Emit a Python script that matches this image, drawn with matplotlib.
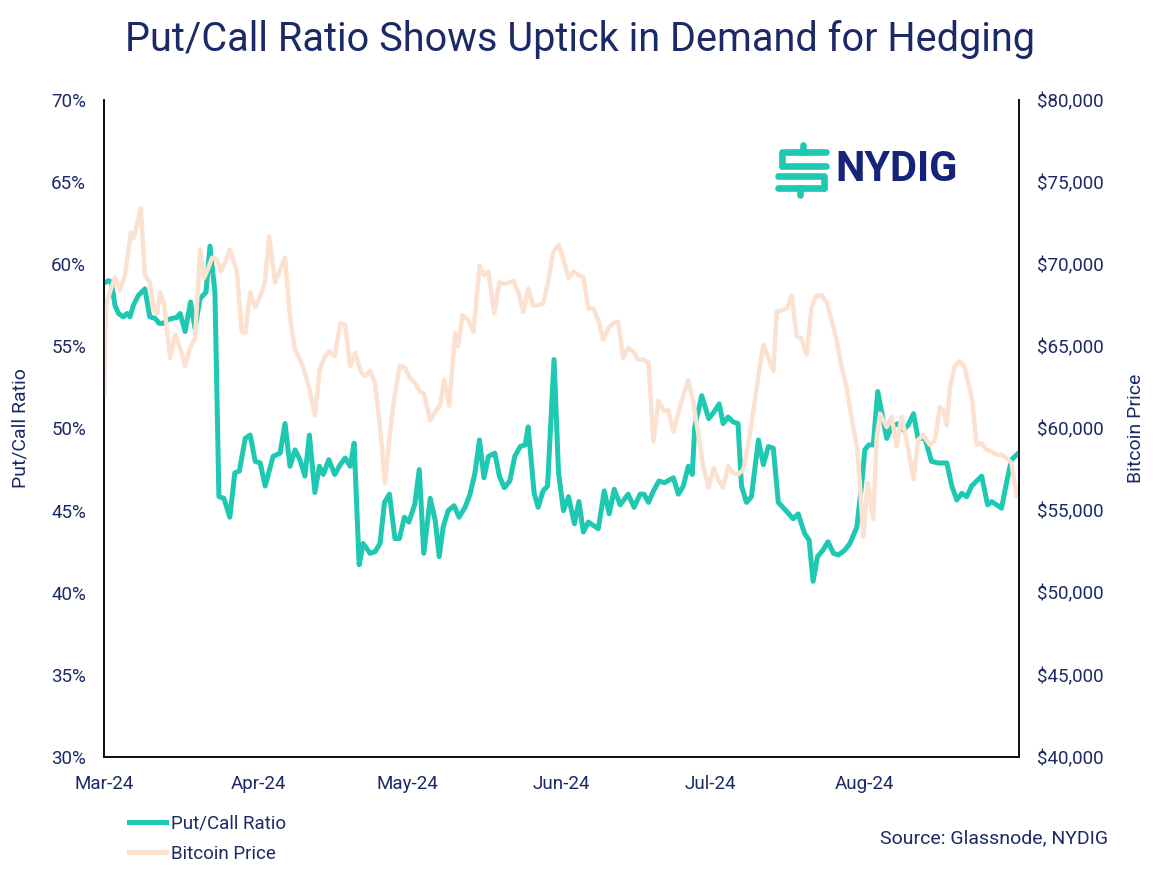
import matplotlib
matplotlib.use("Agg")
import matplotlib.pyplot as plt
import matplotlib.dates as mdates
from matplotlib.lines import Line2D
from matplotlib.ticker import FuncFormatter, MultipleLocator
import pandas as pd

START = pd.Timestamp("2024-03-01")
month_ticks = ["2024-03-01", "2024-04-01", "2024-05-01", "2024-06-01", "2024-07-01", "2024-08-01"]

# days after 1 Mar 2024 and put/call ratio (%)
pc_days = [0.0, 0.9, 1.5, 2.2, 2.9, 3.9, 4.6, 5.2, 5.9, 6.9, 8.2, 9.2, 10.3, 11.1, 11.9,
           12.6, 13.6, 14.6, 15.3, 16.3, 17.4, 18.3, 19.3, 20.5, 21.3, 22.0, 22.3, 23.1,
           24.1, 25.3, 26.3, 27.2, 28.4, 29.4, 30.4, 31.4, 32.4, 34.0, 35.4, 36.4, 37.4,
           38.4, 39.4, 40.4, 41.3, 42.4, 43.3, 44.1, 45.2, 46.4, 47.5, 48.5, 49.5, 50.3,
           51.3, 52.1, 53.5, 54.5, 55.5, 56.4, 57.4, 58.5, 59.4, 60.4, 61.3, 62.5, 63.4,
           64.3, 65.6, 66.6, 67.4, 68.2, 69.2, 70.4, 71.4, 72.6, 73.6, 74.6, 75.5, 76.4,
           77.3, 78.6, 79.5, 80.5, 81.6, 82.6, 83.7, 84.7, 85.3, 86.5, 87.3, 88.3, 89.2,
           90.5, 91.4, 92.4, 93.4, 94.6, 95.5, 96.4, 97.4, 98.4, 99.4, 100.6, 101.6, 102.6,
           103.8, 105.4, 106.6, 107.8, 108.6, 109.5, 110.5, 111.6, 112.7, 114.5, 115.5,
           116.5, 117.5, 118.3, 118.8, 120.2, 121.6, 122.9, 123.7, 124.5, 125.5, 126.5,
           127.5, 128.2, 129.2, 130.2, 131.6, 132.6, 133.6, 134.6, 135.6, 137.3, 138.6,
           139.6, 140.9, 141.8, 142.6, 143.5, 144.6, 145.6, 146.7, 147.7, 149.0, 150.0,
           151.4, 152.4, 153.0, 153.8, 154.7, 155.6, 156.4, 157.4, 158.4, 159.7, 160.7,
           161.7, 162.8, 163.7, 165.1, 166.4, 167.8, 169.5, 170.5, 171.5, 172.5, 173.5,
           174.5, 176.5, 177.7, 178.5, 180.5, 181.5, 182.5, 183.9]
pc_ratio = [58.85, 59.0, 58.9, 57.5, 57.0, 56.8, 57.0, 56.8, 57.5, 58.1, 58.5, 56.8, 56.7,
            56.4, 56.4, 56.6, 56.7, 56.75, 57.0, 55.9, 57.7, 56.1, 57.9, 58.3, 61.1, 59.1,
            58.3, 45.85, 45.75, 44.6, 47.3, 47.4, 49.4, 49.6, 48.0, 47.9, 46.5, 48.3, 48.5,
            50.3, 47.7, 48.7, 48.1, 47.1, 49.6, 46.1, 47.7, 47.2, 48.1, 47.2, 47.8, 48.2,
            47.7, 49.1, 41.7, 43.0, 42.4, 42.5, 43.0, 45.5, 46.0, 43.3, 43.3, 44.6, 44.3,
            45.4, 47.5, 42.4, 45.75, 44.4, 42.2, 44.0, 45.0, 45.3, 44.6, 45.2, 46.0, 47.3,
            49.3, 47.0, 48.3, 48.5, 47.1, 46.4, 46.8, 48.3, 48.9, 49.0, 50.1, 46.05, 45.2,
            46.2, 46.5, 54.2, 47.3, 45.0, 45.85, 44.2, 45.55, 43.7, 44.3, 44.1, 43.9, 46.2,
            44.8, 46.3, 45.35, 46.0, 45.2, 46.0, 46.0, 45.5, 46.2, 46.8, 46.7, 47.0, 46.0,
            46.5, 47.7, 47.2, 50.1, 52.0, 50.6, 51.1, 51.5, 50.3, 50.7, 50.4, 50.3, 46.5,
            45.5, 45.85, 49.3, 47.8, 48.9, 48.8, 45.5, 44.95, 44.5, 44.8, 43.6, 43.2, 40.7,
            42.2, 42.6, 43.1, 42.4, 42.3, 42.6, 43.0, 44.0, 46.7, 48.7, 49.0, 49.0, 52.25,
            51.0, 49.4, 50.1, 50.3, 49.9, 50.2, 50.9, 49.4, 49.4, 48.0, 47.9, 47.9, 46.5,
            45.65, 46.05, 45.85, 46.5, 47.1, 45.35, 45.55, 45.15, 46.7, 48.1, 48.5]

# days after 1 Mar 2024 and bitcoin price ($ thousands)
btc_days = [0.0, 0.4, 1.2, 2.2, 3.2, 4.2, 5.4, 6.0, 7.4, 8.2, 9.2, 9.9, 10.6, 11.3, 12.1,
            13.3, 14.3, 15.3, 16.3, 17.3, 18.3, 19.3, 20.1, 21.0, 21.7, 22.7, 23.5, 24.3,
            25.3, 26.7, 27.7, 28.4, 29.4, 30.4, 31.4, 32.4, 33.2, 34.4, 35.4, 36.4, 37.4,
            38.4, 39.4, 40.4, 41.4, 42.4, 43.4, 44.4, 45.4, 46.4, 47.5, 48.5, 49.5, 50.5,
            51.7, 52.5, 53.5, 54.5, 55.5, 56.5, 57.5, 58.5, 59.5, 60.5, 61.5, 62.5, 63.5,
            64.3, 65.6, 66.8, 67.6, 68.4, 69.4, 70.6, 71.2, 72.1, 73.3, 74.3, 75.5, 76.4,
            77.3, 78.5, 79.5, 80.6, 81.6, 82.4, 83.5, 84.3, 85.3, 86.3, 87.3, 88.3, 89.3,
            90.3, 91.4, 92.4, 93.4, 94.4, 95.4, 96.4, 97.4, 98.4, 99.4, 100.4, 101.4, 102.4,
            103.4, 104.4, 105.4, 106.4, 107.4, 108.4, 109.5, 110.5, 111.5, 112.5, 113.5,
            114.5, 115.8, 117.5, 118.5, 119.5, 120.5, 121.6, 122.6, 123.5, 124.5, 125.5,
            126.5, 127.5, 128.6, 129.6, 130.6, 131.6, 132.6, 133.6, 134.6, 135.3, 136.3,
            137.3, 138.3, 139.3, 140.2, 141.3, 142.3, 143.3, 144.3, 145.3, 146.3, 147.3,
            148.3, 149.3, 150.3, 151.4, 152.0, 152.7, 153.6, 154.7, 155.4, 156.1, 156.7,
            157.4, 158.4, 159.4, 160.4, 161.4, 162.8, 163.7, 164.7, 166.1, 167.1, 168.1,
            168.8, 169.5, 170.1, 171.1, 172.1, 173.1, 174.5, 175.5, 176.5, 177.5, 178.5,
            179.5, 180.5, 181.5, 182.5, 183.5]
btc_price = [62.0, 67.5, 68.3, 69.2, 68.4, 69.35, 71.9, 71.6, 73.4, 69.35, 68.9, 67.3, 67.0,
             68.3, 67.5, 64.3, 65.7, 64.9, 63.8, 64.9, 65.5, 70.9, 69.15, 69.8, 70.4, 70.3,
             69.55, 70.1, 70.9, 69.55, 65.9, 65.8, 68.3, 67.4, 68.0, 69.0, 71.7, 68.9, 69.65,
             70.4, 66.8, 64.8, 64.2, 63.4, 62.3, 60.8, 63.6, 64.4, 64.7, 64.4, 66.4, 66.3,
             63.8, 64.6, 63.4, 63.2, 63.5, 62.8, 60.1, 56.7, 59.7, 62.15, 63.8, 63.7, 63.1,
             62.8, 62.25, 62.15, 60.5, 61.1, 61.4, 62.95, 61.4, 65.8, 65.0, 66.9, 66.6, 65.9,
             69.9, 69.35, 69.55, 67.0, 68.9, 68.8, 68.9, 69.0, 68.1, 67.1, 68.5, 67.5, 67.5,
             67.6, 68.9, 70.7, 71.2, 70.3, 69.15, 69.55, 69.35, 69.2, 67.3, 67.3, 66.6, 65.4,
             66.1, 66.4, 66.5, 64.3, 64.9, 64.7, 64.2, 64.2, 64.0, 59.2, 61.7, 61.1, 61.1,
             59.8, 61.3, 62.95, 61.6, 59.7, 57.7, 56.4, 57.6, 56.9, 56.4, 57.7, 57.3, 57.2,
             57.5, 59.1, 61.1, 63.2, 65.1, 64.3, 63.5, 67.1, 67.2, 67.3, 68.1, 65.6, 65.5,
             64.5, 67.4, 68.1, 68.1, 67.7, 66.6, 65.4, 63.8, 62.55, 60.7, 58.9, 56.7, 53.4,
             56.7, 54.5, 59.5, 60.9, 60.5, 60.1, 60.7, 58.9, 60.7, 59.3, 56.9, 59.3, 59.6,
             59.0, 59.3, 61.3, 61.1, 60.2, 62.45, 63.8, 64.1, 63.7, 61.9, 59.0, 59.1, 58.7,
             58.6, 58.4, 58.4, 58.2, 57.9, 55.9]

TEAL = "#1fc8b0"
PEACH = "#fbe1d0"
NAVY = "#1b2a66"

plt.rcParams["font.family"] = ["Roboto", "DejaVu Sans"]

pc_dates = START + pd.to_timedelta(pc_days, unit="D")
btc_dates = START + pd.to_timedelta(btc_days, unit="D")

fig = plt.figure(figsize=(11.6, 8.71), dpi=100)
ax = fig.add_axes([0.0897, 0.1309, 0.7887, 0.7543])
ax2 = ax.twinx()

ax.plot(pc_dates, pc_ratio, color=TEAL, lw=3.6, zorder=3)
ax2.plot(btc_dates, btc_price, color=PEACH, lw=3.2, zorder=2)

ax.set_ylim(30, 70)
ax.yaxis.set_major_locator(MultipleLocator(5))
ax.yaxis.set_major_formatter(FuncFormatter(lambda v, p: f"{v:.0f}%"))
ax2.set_ylim(40, 80)
ax2.yaxis.set_major_locator(MultipleLocator(5))
ax2.yaxis.set_major_formatter(FuncFormatter(lambda v, p: f"${v * 1000:,.0f}"))

ax.set_xlim(START, pd.Timestamp("2024-09-01"))
ax.set_xticks(pd.to_datetime(month_ticks))
ax.xaxis.set_major_formatter(mdates.DateFormatter("%b-%y"))

for a in (ax, ax2):
    a.tick_params(length=0, labelsize=13.5, labelcolor=NAVY, pad=13)
    a.spines["top"].set_visible(False)
    for s in ("left", "right", "bottom"):
        a.spines[s].set_color("#111111")
        a.spines[s].set_linewidth(1.3)
ax.tick_params(axis="x", pad=13)

ax.set_ylabel("Put/Call Ratio", fontsize=14, color=NAVY)
ax.yaxis.set_label_coords(-0.081, 0.5)
ax2.set_ylabel("Bitcoin Price", fontsize=14, color=NAVY, rotation=90)
ax2.yaxis.set_label_coords(1.118, 0.5)

fig.text(0.5, 0.955, "Put/Call Ratio Shows Uptick in Demand for Hedging",
         ha="center", va="center", fontsize=28.5, color=NAVY)

# NYDIG logo
logo = [
    ([0.677, 0.712], [0.8255, 0.8255]),
    ([0.692, 0.692], [0.8255, 0.8335]),
    ([0.674, 0.674], [0.8255, 0.8094]),
    ([0.674, 0.712], [0.8094, 0.8094]),
    ([0.671, 0.708], [0.7979, 0.7979]),
    ([0.710, 0.710], [0.7979, 0.7842]),
    ([0.671, 0.710], [0.7842, 0.7842]),
    ([0.690, 0.690], [0.7842, 0.7761]),
]
for xs, ys in logo:
    fig.add_artist(Line2D(xs, ys, transform=fig.transFigure, color=TEAL, lw=4.8,
                          solid_capstyle="round"))
fig.text(0.7205, 0.805, "NYDIG", ha="left", va="center", fontsize=30,
         fontweight="bold", color="#15237a")

handles = [Line2D([], [], color=TEAL, lw=3.6), Line2D([], [], color=PEACH, lw=3.6)]
fig.legend(handles, ["Put/Call Ratio", "Bitcoin Price"], loc="upper left",
           bbox_to_anchor=(0.105, 0.0735), frameon=False, fontsize=13.5,
           labelcolor=NAVY, handlelength=1.95, handletextpad=0.3, labelspacing=0.65,
           borderaxespad=0)

fig.text(0.955, 0.038, "Source: Glassnode, NYDIG", ha="right", va="center",
         fontsize=14, color=NAVY)

fig.savefig("out.png", dpi=100)
